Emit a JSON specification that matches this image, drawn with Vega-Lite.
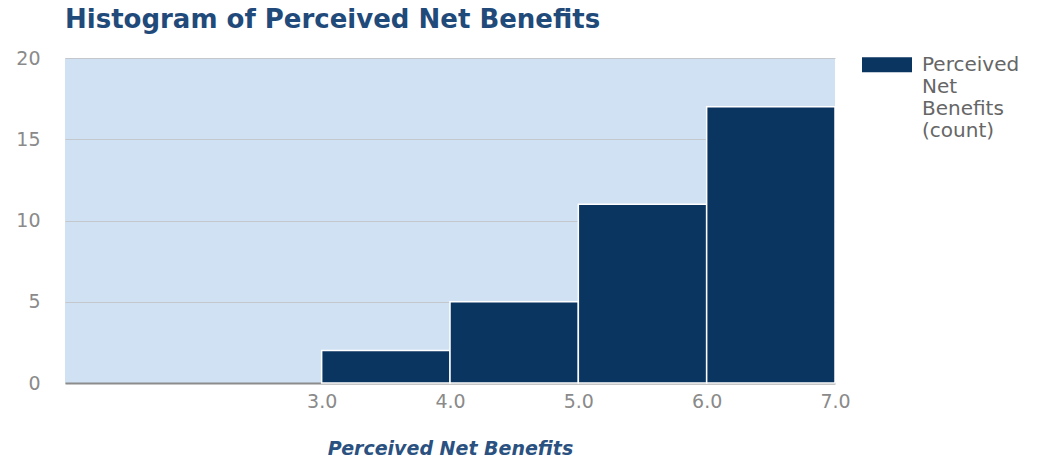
{
  "$schema": "https://vega.github.io/schema/vega-lite/v6.json",
  "autosize": {"type": "none"},
  "width": 770,
  "height": 325,
  "padding": {"left": 65, "top": 58, "right": 207, "bottom": 75},
  "background": "white",
  "title": {
    "text": "Histogram of Perceived Net Benefits",
    "anchor": "start",
    "frame": "group",
    "font": "DejaVu Sans",
    "fontWeight": "bold",
    "fontSize": 26,
    "color": "#1f4a7a",
    "offset": 13
  },
  "config": {
    "view": {"fill": "#cfe1f2", "stroke": null},
    "font": "DejaVu Sans"
  },
  "data": {
    "values": [
      {"bin_start": 3, "bin_end": 4, "count": 2, "series": "Perceived Net Benefits (count)"},
      {"bin_start": 4, "bin_end": 5, "count": 5, "series": "Perceived Net Benefits (count)"},
      {"bin_start": 5, "bin_end": 6, "count": 11, "series": "Perceived Net Benefits (count)"},
      {"bin_start": 6, "bin_end": 7, "count": 17, "series": "Perceived Net Benefits (count)"}
    ]
  },
  "mark": {"type": "bar", "stroke": "white", "strokeWidth": 1.5},
  "encoding": {
    "x": {
      "field": "bin_start",
      "type": "quantitative",
      "scale": {"domain": [1, 7], "nice": false, "zero": false},
      "axis": {
        "title": "Perceived Net Benefits",
        "titleFont": "DejaVu Sans",
        "titleFontStyle": "italic",
        "titleFontWeight": "bold",
        "titleFontSize": 19,
        "titleColor": "#2a5180",
        "titlePadding": 28,
        "values": [3, 4, 5, 6, 7],
        "format": ".1f",
        "labelFont": "DejaVu Sans",
        "labelFontSize": 19,
        "labelColor": "#8a8a8a",
        "labelPadding": 9,
        "labelFlush": false,
        "labelOverlap": false,
        "ticks": false,
        "grid": false,
        "domainColor": "#8c8c8c",
        "domainWidth": 2
      }
    },
    "x2": {"field": "bin_end"},
    "y": {
      "field": "count",
      "type": "quantitative",
      "scale": {"domain": [0, 20], "nice": false},
      "axis": {
        "title": null,
        "values": [0, 5, 10, 15, 20],
        "labelFont": "DejaVu Sans",
        "labelFontSize": 19,
        "labelColor": "#8a8a8a",
        "labelAlign": "right",
        "labelPadding": 25,
        "labelFlush": false,
        "labelOverlap": false,
        "ticks": false,
        "domain": false,
        "grid": true,
        "gridColor": "#c4c8cc",
        "gridWidth": 1.2
      }
    },
    "y2": {"datum": 0},
    "color": {
      "field": "series",
      "type": "nominal",
      "scale": {"range": ["#0b3561"]},
      "legend": {
        "title": null,
        "orient": "none",
        "legendX": 797,
        "legendY": -12,
        "symbolType": "M-1,-0.55H1V0.05H-1Z",
        "symbolSize": 2500,
        "symbolStrokeWidth": 0,
        "symbolOpacity": 1,
        "labelExpr": "['Perceived', 'Net', 'Benefits', '(count)']",
        "labelFont": "DejaVu Sans",
        "labelFontSize": 20,
        "labelColor": "#666666",
        "labelOffset": 10,
        "labelBaseline": "alphabetic",
        "labelLimit": 300
      }
    }
  }
}
